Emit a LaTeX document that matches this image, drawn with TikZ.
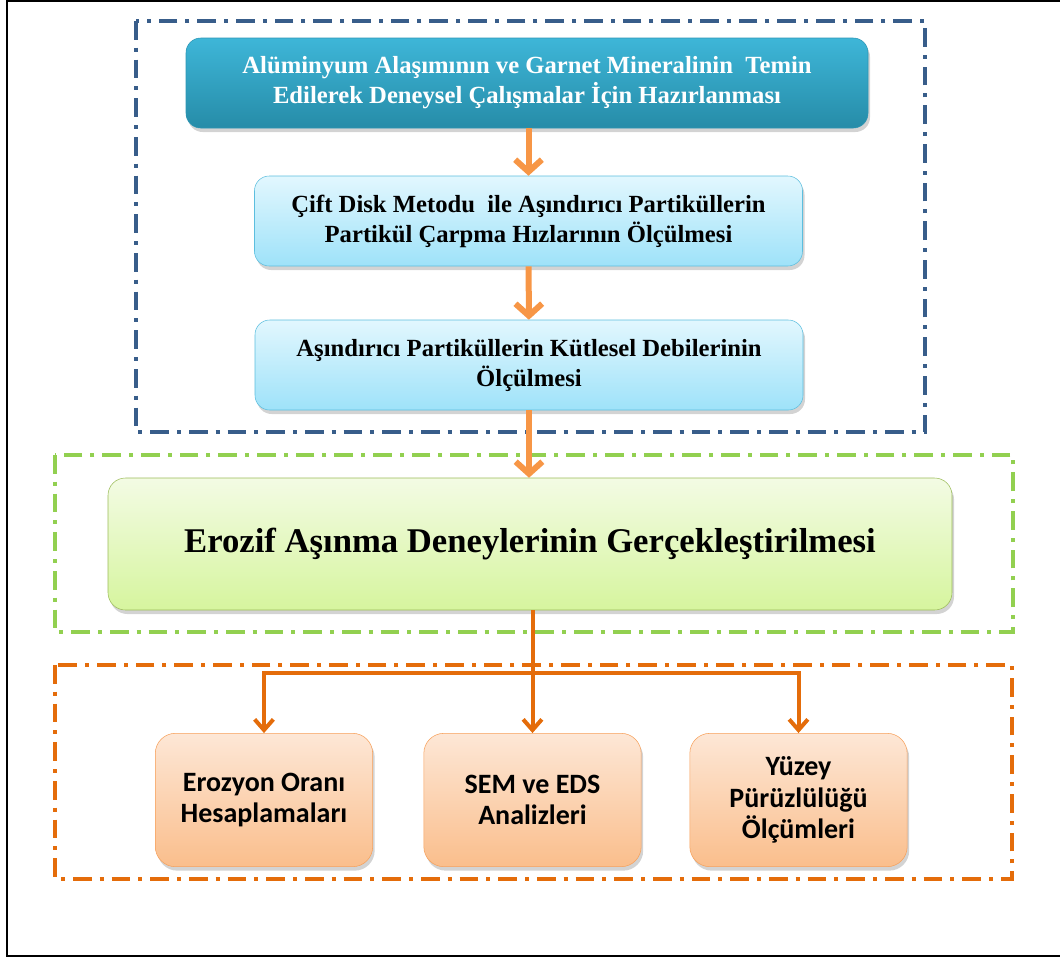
\documentclass[tikz,border=0pt]{standalone}
\usepackage{fontspec}
\setmainfont{Liberation Serif}
\newfontfamily\calibrifont{Carlito}
\usetikzlibrary{
  arrows.meta,
  positioning,
  shadows
}
\definecolor{frameblue}{RGB}{56,93,138}
\definecolor{framegreen}{RGB}{146,208,80}
\definecolor{frameorange}{RGB}{228,108,10}
\definecolor{flowor}{RGB}{247,150,70}
\definecolor{tealtop}{RGB}{62,182,216}
\definecolor{tealbot}{RGB}{38,140,168}
\definecolor{tealedge}{RGB}{45,150,180}
\definecolor{cyantop}{RGB}{226,247,254}
\definecolor{cyanbot}{RGB}{158,226,249}
\definecolor{cyanedge}{RGB}{92,190,222}
\definecolor{limetop}{RGB}{243,251,228}
\definecolor{limebot}{RGB}{214,245,158}
\definecolor{limeedge}{RGB}{155,187,89}
\definecolor{peachtop}{RGB}{253,231,214}
\definecolor{peachbot}{RGB}{250,190,140}
\definecolor{peachedge}{RGB}{247,160,90}

\begin{document}
\begin{tikzpicture}[x=0.75pt, y=-0.75pt,
            shade/.style={drop shadow={opacity=0.35, shadow xshift=1.5pt, shadow yshift=-3pt}},
            prep/.style={rectangle, draw=tealedge, top color=tealtop, bottom color=tealbot, text=white, font=\fontsize{18.5}{22.5}\selectfont\bfseries, align=center, rounded corners=11pt, minimum width=511.5pt, minimum height=67.5pt, shade},
            measure/.style={rectangle, draw=cyanedge, top color=cyantop, bottom color=cyanbot, text=black, font=\fontsize{18.5}{22.5}\selectfont\bfseries, align=center, rounded corners=11pt, minimum width=411pt, minimum height=67.5pt, shade},
            test/.style={rectangle, draw=limeedge, top color=limetop, bottom color=limebot, text=black, font=\fontsize{26}{30}\selectfont\bfseries, align=center, rounded corners=13pt, minimum width=633pt, minimum height=99pt, shade},
            result/.style={rectangle, draw=peachedge, top color=peachtop, bottom color=peachbot, text=black, font=\calibrifont\fontsize{21}{23.5}\selectfont\bfseries, align=center, rounded corners=15pt, minimum width=163pt, minimum height=100pt, shade},
            group/.style={line width=3pt, dash pattern=on 14pt off 6pt on 3pt off 6pt},
            flow/.style={draw=flowor, line width=4.5pt, -{Straight Barb[length=9pt, width=20pt]}},
            branch/.style={draw=frameorange, line width=3pt, -{Straight Barb[length=8pt, width=14pt]}}]
            \useasboundingbox (0,0) rectangle (1060,958);
            \draw [line width=1.5pt] (1060,1) -- (7,1) -- (7,956) -- (1060,956);

            \draw [group, frameblue] (136,21) rectangle (925,432);
            \draw [group, framegreen] (55,455) rectangle (1013,632);
            \draw [group, frameorange] (55,665) rectangle (1012,879);

            \node [prep] (prep) at (527,83) {Alüminyum Alaşımının ve Garnet Mineralinin \ Temin\\Edilerek Deneysel Çalışmalar İçin Hazırlanması};
            \node [measure] (disk) at (528.5,221) {Çift Disk Metodu \ ile Aşındırıcı Partiküllerin\\Partikül Çarpma Hızlarının Ölçülmesi};
            \node [measure] (debi) at (529,365) {Aşındırıcı Partiküllerin Kütlesel Debilerinin\\Ölçülmesi};
            \node [test] (erosion) at (530,544) {Erozif Aşınma Deneylerinin Gerçekleştirilmesi};
            \node [result] (rate) at (264,800) {Erozyon Oranı\\Hesaplamaları};
            \node [result] (sem) at (532.5,800) {SEM ve EDS\\Analizleri};
            \node [result] (rough) at (798.5,800) {Yüzey\\Pürüzlülüğü\\Ölçümleri};

            \path [flow] (prep.south -| disk.north) -- (disk.north);
            \path [flow] (disk) -- (debi);
            \path [flow] (debi.south) -- (erosion.north -| debi.south);
            \path [branch] (erosion.south -| sem.north) -- (sem.north);
            \path [branch] (erosion.south -| sem.north) -- ++(0,63) -| (rate.north);
            \path [branch] (erosion.south -| sem.north) -- ++(0,63) -| (rough.north);
\end{tikzpicture}
\end{document}
